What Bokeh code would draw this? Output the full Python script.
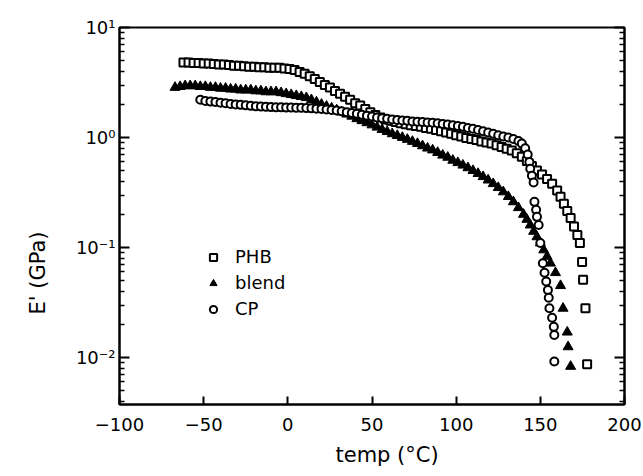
from bokeh.plotting import figure
from bokeh.models import (LogAxis, FixedTicker, Range1d, Title, Legend, LegendItem,
                          CustomJSTickFormatter)
from bokeh.embed import file_html
from bokeh.resources import INLINE

# ---------------- data ----------------
phb_t = [-62, -59, -56, -53, -50, -47, -44, -41, -38, -35, -32, -29, -26, -23, -20, -17, -14, -11, -8, -5, -2,
         1, 4, 7, 10, 13, 16, 19, 22, 25, 28, 31, 34, 37, 40, 43, 46, 49, 52, 55, 58,
         61, 64, 67, 70, 73, 76, 79, 82, 85, 88, 91, 94, 97, 100, 103, 106, 109, 112, 115, 118,
         121, 124, 127, 130, 133, 136, 139, 142, 145, 148, 151, 154, 157, 160,
         162, 164, 166, 168, 170, 172,
         173.5, 174.8, 175.4, 176.8, 177.8]
phb_e = [4.8, 4.8, 4.75, 4.75, 4.7, 4.7, 4.65, 4.6, 4.6, 4.55, 4.5, 4.5, 4.45, 4.4, 4.4, 4.35, 4.35, 4.3, 4.3, 4.3, 4.25,
         4.2, 4.1, 3.95, 3.8, 3.6, 3.4, 3.2, 3.0, 2.85, 2.65, 2.5, 2.35, 2.2, 2.05, 1.95, 1.82, 1.7, 1.6, 1.52, 1.46,
         1.42, 1.38, 1.35, 1.32, 1.29, 1.27, 1.25, 1.22, 1.2, 1.17, 1.14, 1.11, 1.08, 1.05, 1.02, 0.99, 0.97, 0.95, 0.92, 0.9,
         0.88, 0.85, 0.82, 0.79, 0.76, 0.72, 0.67, 0.61, 0.55, 0.5, 0.46, 0.42, 0.38, 0.33,
         0.29, 0.25, 0.215, 0.185, 0.155, 0.13,
         0.11, 0.074, 0.051, 0.028, 0.0087]

blend_t = [-67, -64, -61, -58, -55, -52, -49, -46, -43, -40, -37, -34, -31, -28, -25, -22, -19, -16, -13, -10, -7, -4, -1,
           2, 5, 8, 11, 14, 17, 20, 23, 26, 29, 32, 35, 38, 41, 44, 47, 50, 53, 56, 59,
           62, 65, 68, 71, 74, 77, 80, 83, 86, 89, 92, 95, 98, 101, 104, 107, 110, 113, 116, 119,
           122, 125, 128, 131, 134, 137, 140,
           142, 144, 146, 148, 150, 152, 154, 156,
           159, 162, 163.5, 166, 166.5, 168]
blend_e = [2.85, 2.9, 2.95, 2.95, 2.95, 2.9, 2.9, 2.85, 2.85, 2.8, 2.8, 2.75, 2.75, 2.7, 2.7, 2.7, 2.65, 2.65, 2.6, 2.6, 2.6, 2.55, 2.5,
           2.45, 2.4, 2.35, 2.3, 2.2, 2.1, 2.0, 1.92, 1.85, 1.78, 1.7, 1.63, 1.56, 1.48, 1.42, 1.36, 1.3, 1.24, 1.18, 1.13,
           1.08, 1.04, 1.0, 0.96, 0.92, 0.88, 0.84, 0.8, 0.77, 0.73, 0.69, 0.66, 0.62, 0.59, 0.56, 0.53, 0.5, 0.47, 0.44, 0.41,
           0.38, 0.35, 0.32, 0.29, 0.26, 0.23, 0.2,
           0.18, 0.16, 0.14, 0.125, 0.11, 0.095, 0.083, 0.072,
           0.059, 0.045, 0.028, 0.017, 0.0125, 0.0083]

cp_t = [-52, -49, -46, -43, -40, -37, -34, -31, -28, -25,
        -22, -19, -16, -13, -10, -7, -4, -1, 2, 5,
        8, 11, 14, 17, 20, 23, 26, 29, 32, 35,
        38, 41, 44, 47, 50, 53, 56, 59, 62, 65,
        68, 71, 74, 77, 80, 83, 86, 89, 92, 95,
        98, 101, 104, 107, 110, 113, 116, 119, 122, 125,
        128, 131, 134, 137,
        139, 141, 142.5, 143.5, 144, 145, 146,
        146.5, 147.5, 148, 149, 150,
        151.5, 152.5, 153.5, 154.5, 155, 155.4, 157, 158, 158.3, 158.3]
cp_e = [2.2, 2.15, 2.12, 2.1, 2.07, 2.05, 2.02, 2.0, 1.98, 1.96,
        1.94, 1.92, 1.91, 1.9, 1.89, 1.88, 1.88, 1.87, 1.87, 1.86,
        1.86, 1.85, 1.84, 1.83, 1.82, 1.8, 1.78, 1.76, 1.73, 1.7,
        1.67, 1.64, 1.61, 1.58, 1.55, 1.52, 1.5, 1.48, 1.46, 1.44,
        1.43, 1.42, 1.4, 1.39, 1.38, 1.37, 1.36, 1.35, 1.33, 1.31,
        1.29, 1.27, 1.25, 1.22, 1.2, 1.17, 1.14, 1.11, 1.08, 1.05,
        1.02, 1.0, 0.97, 0.93,
        0.88, 0.8, 0.7, 0.6, 0.52, 0.45, 0.39,
        0.26, 0.22, 0.19, 0.16, 0.11,
        0.072, 0.059, 0.049, 0.041, 0.035, 0.028, 0.023, 0.019, 0.016, 0.0092]

series_labels = ["PHB", "blend", "CP"]
x_ticks = [-100, -50, 0, 50, 100, 150, 200]
y_ticks = [0.01, 0.1, 1, 10]
y_minor = [0.004, 0.005, 0.006, 0.007, 0.008, 0.009,
           0.02, 0.03, 0.04, 0.05, 0.06, 0.07, 0.08, 0.09,
           0.2, 0.3, 0.4, 0.5, 0.6, 0.7, 0.8, 0.9,
           2, 3, 4, 5, 6, 7, 8, 9]
x_title = "temp (°C)"
y_title = "E' (GPa)"

FONT = "DejaVu Sans"

p = figure(width=643, height=476, x_range=Range1d(-100, 200), y_range=Range1d(0.00374, 10),
           y_axis_type="log", output_backend="svg", toolbar_location=None,
           min_border_left=119, min_border_right=19, min_border_top=27, min_border_bottom=72,
           background_fill_color="white", border_fill_color="white")
p.grid.visible = False
p.outline_line_color = "black"
p.outline_line_width = 2

# x axis
xa = p.xaxis[0]
xa.ticker = FixedTicker(ticks=x_ticks)
xa.major_tick_in = 8
xa.major_tick_out = 0
xa.minor_tick_in = 0
xa.minor_tick_out = 0
xa.axis_line_width = 2
xa.major_tick_line_width = 2
xa.major_label_text_font = FONT
xa.major_label_text_font_size = "18px"
xa.major_label_text_color = "black"
xa.major_label_standoff = 13

sup_js = """
const e = Math.round(Math.log10(tick));
const sup = {'-':'\u207b','0':'\u2070','1':'\u00b9','2':'\u00b2','3':'\u00b3'};
return '10' + String(e).split('').map(c => sup[c]).join('');
"""

ya = p.yaxis[0]
ya.ticker = FixedTicker(ticks=y_ticks, minor_ticks=y_minor)
ya.formatter = CustomJSTickFormatter(code=sup_js)
ya.major_tick_in = 10
ya.major_tick_out = 0
ya.minor_tick_in = 5
ya.minor_tick_out = 0
ya.axis_line_width = 2
ya.major_tick_line_width = 2
ya.minor_tick_line_width = 1.5
ya.major_label_text_font = FONT
ya.major_label_text_font_size = "18px"
ya.major_label_text_color = "black"
ya.major_label_standoff = 4

ra = LogAxis(ticker=FixedTicker(ticks=y_ticks, minor_ticks=y_minor),
             formatter=CustomJSTickFormatter(code="return '';"))
ra.major_tick_in = 10
ra.major_tick_out = 0
ra.minor_tick_in = 5
ra.minor_tick_out = 0
ra.axis_line_width = 2
ra.major_tick_line_width = 2
ra.minor_tick_line_width = 1.5
p.add_layout(ra, "right")

r_blend = p.scatter(blend_t, blend_e, marker="triangle", size=10, fill_color="black",
                    line_color="black", line_width=1)
r_phb = p.scatter(phb_t, phb_e, marker="square", size=8, fill_color="white",
                  line_color="black", line_width=2)
r_cp = p.scatter(cp_t, cp_e, marker="circle", size=8, fill_color="white",
                 line_color="black", line_width=2)

legend = Legend(items=[LegendItem(label=series_labels[0], renderers=[r_phb]),
                       LegendItem(label=series_labels[1], renderers=[r_blend]),
                       LegendItem(label=series_labels[2], renderers=[r_cp])],
                location=(85, 85), orientation="vertical",
                glyph_width=18, glyph_height=18, label_height=18, label_standoff=13,
                spacing=5, padding=0, margin=0,
                border_line_color=None, background_fill_alpha=0,
                label_text_font=FONT, label_text_font_size="18px", label_text_color="black")
p.add_layout(legend)

xt = Title(text=x_title, align="left", offset=216, standoff=15,
           text_font=FONT, text_font_size="21px", text_font_style="normal", text_color="black")
p.add_layout(xt, "below")
yt = Title(text=y_title, align="left", offset=90, standoff=45,
           text_font=FONT, text_font_size="21px", text_font_style="normal", text_color="black")
p.add_layout(yt, "left")

open("out.html", "w").write(file_html(p, INLINE))
